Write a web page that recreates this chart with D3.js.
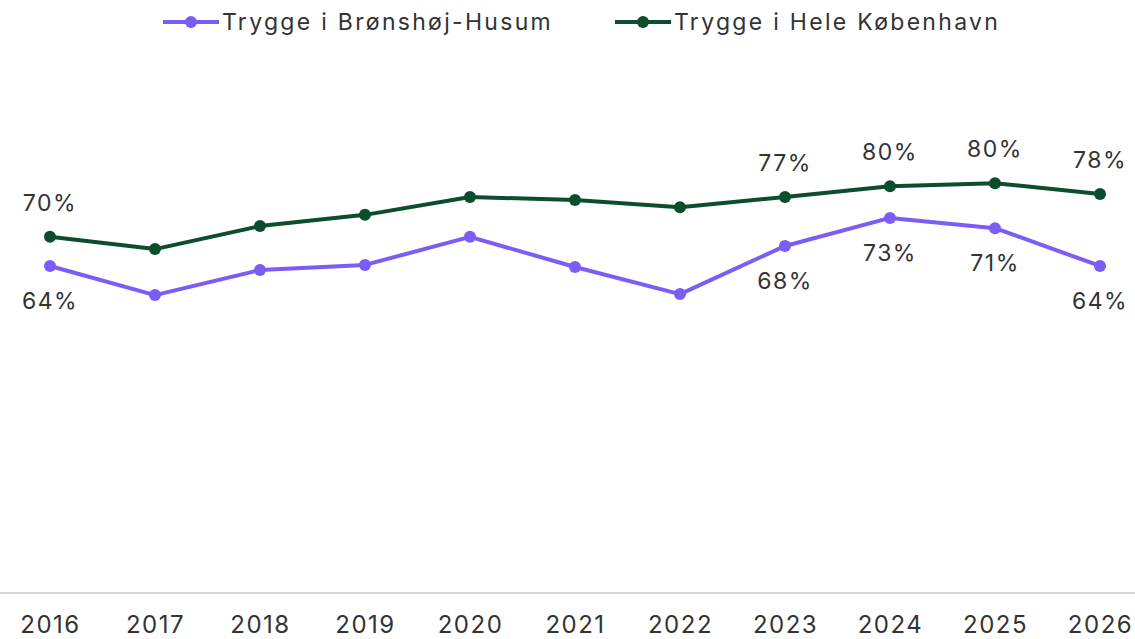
<!DOCTYPE html>
<html><head><meta charset="utf-8">
<script src="https://cdn.jsdelivr.net/npm/d3@7"></script>
<style>body{margin:0;background:#fff;}svg{display:block;}</style>
</head><body>
<svg id="c" width="1135" height="639"></svg>
<script>
const years = [2016,2017,2018,2019,2020,2021,2022,2023,2024,2025,2026];
const brValues = [64,58.3,63.2,64.2,69.7,63.8,58.5,67.9,73.4,71.4,64];
const kbhValues = [69.7,67.3,71.8,74,77.5,76.9,75.5,77.5,79.6,80.2,78.1];
const brLabels = {2016:"64%",2023:"68%",2024:"73%",2025:"71%",2026:"64%"};
const kbhLabels = {2016:"70%",2023:"77%",2024:"80%",2025:"80%",2026:"78%"};
const seriesNames = ["Trygge i Brønshøj-Husum","Trygge i Hele København"];
const colors = ["#7b5cf5","#0b4d2c"];

const svg = d3.select("#c");
const font = "Inter, 'Noto Sans', sans-serif";
const x = d3.scalePoint().domain(years).range([50,1100]);
const y = d3.scaleLinear().domain([0,100]).range([593,82]);

svg.append("line").attr("x1",0).attr("x2",1135).attr("y1",593).attr("y2",593)
  .attr("stroke","#c8c8c8").attr("stroke-width",1.5);

const xAxis = d3.axisBottom(x).tickSize(0).tickPadding(0);
const gx = svg.append("g").attr("transform","translate(0,593)").call(xAxis);
gx.select(".domain").remove();
gx.selectAll("text").attr("y",32).attr("dy","0.35em").attr("font-family",font)
  .attr("font-size",24).attr("letter-spacing",1.5).attr("fill","#333");

const series = [
  {vals:brValues, labels:brLabels, color:colors[0], dy:35},
  {vals:kbhValues, labels:kbhLabels, color:colors[1], dy:-34}
];
const line = d3.line().x((d,i)=>x(years[i])).y(d=>y(d));
series.forEach(s=>{
  svg.append("path").datum(s.vals).attr("d",line).attr("fill","none")
    .attr("stroke",s.color).attr("stroke-width",4).attr("stroke-linejoin","round");
  svg.selectAll(null).data(s.vals).enter().append("circle")
    .attr("cx",(d,i)=>x(years[i])).attr("cy",d=>y(d)).attr("r",6).attr("fill",s.color);
  svg.selectAll(null).data(years.filter(yr=>s.labels[yr])).enter().append("text")
    .attr("x",yr=>x(yr)).attr("y",yr=>y(s.vals[years.indexOf(yr)])+s.dy)
    .attr("dy","0.35em").attr("text-anchor","middle")
    .attr("font-family",font).attr("font-size",23).attr("letter-spacing",1.5).attr("fill","#333")
    .text(yr=>s.labels[yr]);
});

// legend
const leg = [{x:163},{x:615}];
seriesNames.forEach((n,i)=>{
  const g = svg.append("g").attr("transform",`translate(${leg[i].x},22)`);
  g.append("line").attr("x1",0).attr("x2",56).attr("stroke",colors[i]).attr("stroke-width",4);
  g.append("circle").attr("cx",28).attr("r",6).attr("fill",colors[i]);
  g.append("text").attr("x",59).attr("dy","0.35em").attr("font-family",font)
    .attr("font-size",23).attr("letter-spacing",2.3).attr("fill","#333").text(n);
});
</script>
</body></html>
